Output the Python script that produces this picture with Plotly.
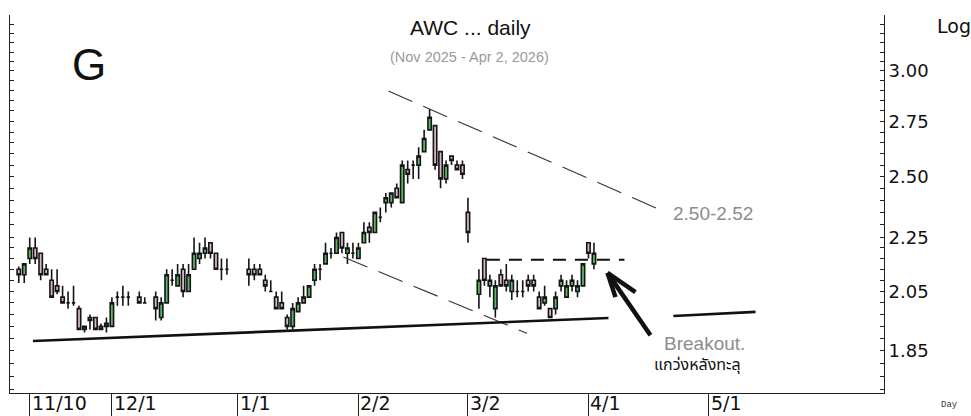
import numpy as np
import plotly.graph_objects as go

# ---------------- data ----------------
dates = [
    "2025-11-06", "2025-11-07", "2025-11-10", "2025-11-11", "2025-11-12", "2025-11-13", "2025-11-14",
    "2025-11-17", "2025-11-18", "2025-11-19", "2025-11-20", "2025-11-21",
    "2025-11-24", "2025-11-25", "2025-11-26", "2025-11-27", "2025-11-28",
    "2025-12-01", "2025-12-02", "2025-12-03", "2025-12-04",
    "2025-12-08", "2025-12-09", "2025-12-11", "2025-12-12",
    "2025-12-15", "2025-12-16", "2025-12-17", "2025-12-18", "2025-12-19",
    "2025-12-22", "2025-12-23", "2025-12-24", "2025-12-25", "2025-12-26",
    "2025-12-29", "2025-12-30",
    "2026-01-05", "2026-01-06", "2026-01-07", "2026-01-08", "2026-01-09",
    "2026-01-12", "2026-01-13", "2026-01-14", "2026-01-15", "2026-01-16",
    "2026-01-19", "2026-01-20", "2026-01-21", "2026-01-22", "2026-01-23",
    "2026-01-26", "2026-01-27", "2026-01-28", "2026-01-29", "2026-01-30",
    "2026-02-02", "2026-02-03", "2026-02-04", "2026-02-05", "2026-02-06",
    "2026-02-09", "2026-02-10", "2026-02-11", "2026-02-12", "2026-02-13",
    "2026-02-16", "2026-02-17", "2026-02-18", "2026-02-19", "2026-02-20",
    "2026-02-23", "2026-02-24", "2026-02-25", "2026-02-26", "2026-02-27",
    "2026-03-02", "2026-03-04", "2026-03-05", "2026-03-06",
    "2026-03-09", "2026-03-10", "2026-03-11", "2026-03-12", "2026-03-13",
    "2026-03-16", "2026-03-17", "2026-03-18", "2026-03-19", "2026-03-20",
    "2026-03-23", "2026-03-24", "2026-03-25", "2026-03-26", "2026-03-27",
    "2026-03-30", "2026-03-31", "2026-04-01", "2026-04-02",
]

open_ = [
    2.13, 2.11, 2.17, 2.21, 2.19, 2.13, 2.09, 2.07, 2.03, 2.01, 2.01, 1.99,
    1.92, 1.96, 1.96, 1.93, 1.94,
    1.93, 2.03, 2.03, 2.03, 2.03, 2.01, 2.03, 1.96, 2.01, 2.09, 2.07, 2.13, 2.05,
    2.13, 2.17, 2.19, 2.23, 2.19, 2.13, 2.13,
    2.13, 2.13, 2.13, 2.09, 2.05, 2.03, 2.01, 1.96, 1.93, 1.98,
    2.01, 2.03, 2.09, 2.13, 2.15, 2.19, 2.19, 2.27, 2.19, 2.19,
    2.17, 2.23, 2.29, 2.27, 2.33, 2.39, 2.39, 2.45, 2.39, 2.53,
    2.55, 2.55, 2.61, 2.71, 2.73, 2.61, 2.49, 2.59, 2.55, 2.55,
    2.35, 2.04, 2.17, 2.07, 1.99, 2.11, 2.09, 2.05, 2.05,
    2.05, 2.09, 2.09, 2.03, 2.01, 1.99, 1.99, 2.07, 2.03, 2.07,
    2.05, 2.07, 2.23, 2.15,
]
high = [
    2.14, 2.15, 2.25, 2.25, 2.19, 2.15, 2.13, 2.13, 2.07, 2.05, 2.07, 2.00,
    1.93, 1.97, 1.96, 1.94, 1.96,
    2.03, 2.05, 2.07, 2.05, 2.05, 2.03, 2.05, 2.03, 2.13, 2.13, 2.15, 2.15, 2.15,
    2.25, 2.23, 2.25, 2.23, 2.19, 2.17, 2.17,
    2.17, 2.15, 2.15, 2.11, 2.09, 2.05, 2.05, 1.97, 2.01, 2.03,
    2.07, 2.07, 2.15, 2.15, 2.23, 2.21, 2.27, 2.27, 2.23, 2.23,
    2.23, 2.31, 2.31, 2.35, 2.37, 2.43, 2.43, 2.47, 2.57, 2.57,
    2.57, 2.63, 2.71, 2.81, 2.73, 2.61, 2.57, 2.59, 2.57, 2.57,
    2.41, 2.13, 2.17, 2.11, 2.09, 2.13, 2.15, 2.11, 2.09,
    2.09, 2.11, 2.11, 2.05, 2.07, 1.99, 2.05, 2.11, 2.09, 2.11,
    2.09, 2.15, 2.23, 2.23,
]
low = [
    2.08, 2.08, 2.15, 2.15, 2.09, 2.11, 2.03, 2.04, 2.01, 1.99, 2.00, 1.92,
    1.91, 1.92, 1.92, 1.92, 1.91,
    1.93, 2.00, 2.00, 2.00, 2.01, 2.01, 1.95, 1.95, 2.01, 2.07, 2.07, 2.03, 2.05,
    2.13, 2.15, 2.17, 2.17, 2.13, 2.09, 2.11,
    2.07, 2.09, 2.11, 2.05, 2.05, 1.99, 1.99, 1.92, 1.92, 1.98,
    2.01, 2.03, 2.07, 2.09, 2.15, 2.17, 2.19, 2.19, 2.15, 2.17,
    2.17, 2.23, 2.23, 2.27, 2.31, 2.35, 2.37, 2.41, 2.39, 2.47,
    2.49, 2.49, 2.61, 2.71, 2.53, 2.45, 2.47, 2.55, 2.53, 2.49,
    2.23, 1.99, 2.07, 2.03, 1.96, 2.07, 2.05, 2.02, 2.03,
    2.03, 2.05, 2.05, 1.99, 2.00, 1.96, 1.97, 2.05, 2.03, 2.05,
    2.03, 2.07, 2.17, 2.13,
]
close = [
    2.11, 2.15, 2.21, 2.17, 2.11, 2.11, 2.03, 2.05, 2.01, 2.01, 2.01, 1.92,
    1.93, 1.95, 1.92, 1.92, 1.93,
    2.01, 2.03, 2.03, 2.03, 2.01, 2.01, 1.99, 2.01, 2.11, 2.09, 2.11, 2.05, 2.11,
    2.19, 2.19, 2.21, 2.19, 2.13, 2.13, 2.13,
    2.11, 2.11, 2.11, 2.07, 2.05, 1.99, 1.99, 1.93, 1.99, 2.01,
    2.03, 2.07, 2.13, 2.13, 2.19, 2.19, 2.25, 2.21, 2.21, 2.19,
    2.21, 2.27, 2.27, 2.35, 2.33, 2.41, 2.43, 2.41, 2.55, 2.51,
    2.55, 2.59, 2.67, 2.77, 2.55, 2.49, 2.55, 2.57, 2.53, 2.51,
    2.27, 2.09, 2.09, 2.09, 2.07, 2.07, 2.07, 2.09, 2.05,
    2.05, 2.07, 2.07, 1.99, 2.03, 1.96, 2.03, 2.09, 2.07, 2.09,
    2.07, 2.15, 2.19, 2.19,
]

x_tick_dates = ["2025-11-10", "2025-12-01", "2026-01-01", "2026-02-02",
                "2026-03-02", "2026-04-01", "2026-05-01"]
x_tick_labels = ["11/10", "12/1", "1/1", "2/2", "3/2", "4/1", "5/1"]

y_major = [1.85, 2.05, 2.25, 2.50, 2.75, 3.00]
y_major_labels = ["1.85", "2.05", "2.25", "2.50", "2.75", "3.00"]

# hand-drawn study lines: (date, price) end points
upper_dash = [("2026-02-09 11:30", 2.898), ("2026-04-20 03:36", 2.360)]
lower_dash = [("2026-01-28 06:15", 2.176), ("2026-03-16 18:30", 1.907)]
support_line = [("2025-11-10 14:00", 1.882), ("2026-04-06 15:36", 1.958)]
support_line2 = [("2026-04-22 12:00", 1.965), ("2026-05-13 12:00", 1.979)]
resistance_dash = [("2026-03-05 11:00", 2.165), ("2026-04-09 13:40", 2.165)]
arrow_tip = ("2026-04-06 11:17", 2.117)
arrow_tail = ("2026-04-16 07:40", 1.901)
arrow_arm1 = ("2026-04-13 13:55", 2.048)
arrow_arm2 = ("2026-04-07 22:19", 2.030)

x_range = ["2025-11-04 09:36", "2026-06-15 22:48"]
y_range = [1.7203, 3.3046]

# ---------------- figure ----------------
fig = go.Figure()
fig.add_trace(go.Candlestick(
    x=dates, open=open_, high=high, low=low, close=close,
    increasing=dict(line=dict(color="#151515", width=1.6), fillcolor="#5ab864"),
    decreasing=dict(line=dict(color="#151515", width=1.6), fillcolor="#dbb4c6"),
    whiskerwidth=0, hoverinfo="skip", showlegend=False,
))


def seg(p0, p1, width, color, dash="solid"):
    return dict(type="line", xref="x", yref="y",
                x0=p0[0], y0=p0[1], x1=p1[0], y1=p1[1],
                line=dict(color=color, width=width, dash=dash))


shapes = [
    seg(*upper_dash, 1.1, "#333333", "26px,12px"),
    seg(*lower_dash, 1.1, "#333333", "26px,12px"),
    seg(*support_line, 2.6, "#111111"),
    seg(*support_line2, 2.6, "#111111"),
    seg(*resistance_dash, 2.0, "#111111", "13px,9px"),
    seg(arrow_tail, arrow_tip, 4.5, "#111111"),
    seg(arrow_tip, arrow_arm1, 4.5, "#111111"),
    seg(arrow_tip, arrow_arm2, 4.5, "#111111"),
]

# y ticks: majors plus 5 subdivisions between them
y_ticks, y_text = [], []
ext = [1.65] + y_major + [3.25]
for a, b in zip(ext[:-1], ext[1:]):
    for v in np.linspace(a, b, 6)[:-1]:
        if y_range[0] <= v <= y_range[1]:
            y_ticks.append(round(float(v), 4))
            y_text.append("")
for v in np.arange(3.05, 3.31, 0.05):
    y_ticks.append(round(float(v), 4))
    y_text.append("")
for v, t in zip(y_major, y_major_labels):
    if v in y_ticks:
        i = y_ticks.index(v)
        y_text[i] = t
    else:
        y_ticks.append(v)
        y_text.append(t)

L, R, T, B = 10, 884, 15, 393
W, H = 971, 416


def px(x):
    return (x - L) / (R - L)


def py(y):
    return (B - y) / (B - T)


annotations = [
    dict(text="AWC ... daily", x=px(470), y=py(27), font=dict(family="Liberation Sans", size=21, color="#111")),
    dict(text="(Nov 2025 - Apr 2, 2026)", x=px(469), y=py(57),
         font=dict(family="Liberation Sans", size=14.5, color="#9a9a9a")),
    dict(text="G", x=px(89), y=py(64), font=dict(family="Liberation Sans", size=44, color="#111")),
    dict(text="Log", x=px(935), y=py(26), xanchor="left",
         font=dict(family="DejaVu Sans", size=19, color="#111")),
    dict(text="Day", x=px(939), y=py(405), xanchor="left",
         font=dict(family="Liberation Mono", size=9, color="#333")),
    dict(text="2.50-2.52", x=px(671), y=py(213), xanchor="left",
         font=dict(family="Liberation Sans", size=19, color="#8c8c8c")),
    dict(text="Breakout.", x=px(662), y=py(343), xanchor="left",
         font=dict(family="Liberation Sans", size=19, color="#8c8c8c")),
    dict(text="แกว่งหลังทะลุ", x=px(652), y=py(365), xanchor="left",
         font=dict(family="Noto Sans Thai, Noto Sans, DejaVu Sans, sans-serif", size=16, color="#111")),
]
for a in annotations:
    a.update(xref="paper", yref="paper", showarrow=False)
    a.setdefault("xanchor", "center")
    a.setdefault("yanchor", "middle")

for d, t in zip(x_tick_dates, x_tick_labels):
    annotations.append(dict(text=t, x=d, xref="x", y=py(415), yref="paper",
                            xanchor="left", yanchor="bottom", xshift=1, showarrow=False,
                            borderpad=0,
                            font=dict(family="DejaVu Sans", size=19, color="#111")))

fig.update_layout(
    width=W, height=H,
    margin=dict(l=L, r=W - R, t=T, b=H - B, autoexpand=False),
    paper_bgcolor="white", plot_bgcolor="white",
    showlegend=False,
    boxgap=0.12,
    shapes=shapes,
    annotations=annotations,
    xaxis=dict(
        type="date", range=x_range, automargin=False,
        rangebreaks=[dict(bounds=["sat", "mon"])],
        rangeslider=dict(visible=False),
        showgrid=False, zeroline=False,
        showline=True, linecolor="#222", linewidth=1,
        ticks="outside", ticklen=25, tickcolor="#222", tickwidth=1,
        tickvals=x_tick_dates, showticklabels=False,
    ),
    yaxis=dict(
        type="log", side="right", automargin=False,
        range=[np.log10(y_range[0]), np.log10(y_range[1])],
        showgrid=False, zeroline=False,
        showline=True, linecolor="#222", linewidth=1, mirror="ticks",
        ticks="inside", ticklen=4, tickcolor="#222",
        tickvals=y_ticks, ticktext=y_text,
        tickfont=dict(family="DejaVu Sans", size=18, color="#111"),
    ),
)

fig.write_html("out.html", config={"displayModeBar": False},
               post_script="document.body.style.margin='0';")
